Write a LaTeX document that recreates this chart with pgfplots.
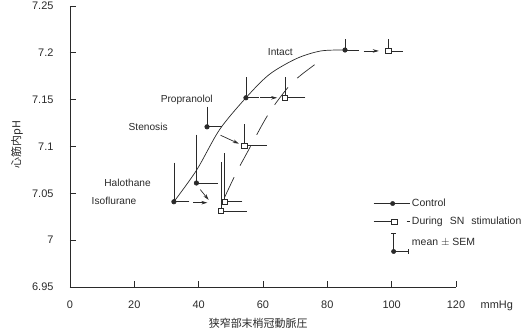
\documentclass[border=0pt]{standalone}
\usepackage{fontspec}
\setmainfont{Liberation Sans}
\newfontfamily\jp{Noto Sans CJK JP}
\usepackage{pgfplots}
\pgfplotsset{compat=1.18}
\usetikzlibrary{arrows.meta}

\definecolor{ink}{HTML}{2A2A2A}

\begin{document}
\begin{tikzpicture}
\begin{axis}[
  scale only axis, width=386bp, height=281bp,
  xmin=0, xmax=120, ymin=6.95, ymax=7.25,
  axis lines*=left,
  axis line style={ink, line width=0.9pt, -},
  tick align=inside, major tick length=6bp,
  tick style={ink, line width=0.8pt},
  xtick={0,20,...,120},
  ytick={6.95,7,7.05,7.1,7.15,7.2,7.25},
  yticklabels={6.95,7,7.05,7.1,7.15,7.2,7.25},
  /pgf/number format/assume math mode=true,
  ticklabel style={font=\fontsize{11}{13}\selectfont, text=ink},
  xticklabel style={yshift=-10bp},
  yticklabel style={xshift=-13bp},
  clip=false,
  legend style={draw=none, fill=none, at={(axis cs:93.3,7.0484)}, anchor=north west,
    font=\fontsize{10.5}{12.5}\selectfont, text=ink, row sep=5bp},
  legend cell align=left,
]

% frame of the page
\coordinate (pgbl) at (axis cs:-21.76,6.902);
\coordinate (pgtr) at (axis cs:140.83,7.2564);

% control curve (solid) and stimulation curve (dashed)
\addplot[ink, line width=0.7pt, smooth, forget plot] coordinates {
  (32.3,7.041) (39.4,7.075) (46.5,7.118) (54.7,7.152) (62,7.177)
  (70.5,7.194) (78,7.202) (85.5,7.203)};
\addplot[ink, line width=0.7pt, smooth, dash pattern=on 22bp off 13bp, forget plot] coordinates {
  (48.1,7.046) (51.7,7.072) (55,7.093) (60.2,7.126) (63.3,7.143)
  (68,7.164) (71.7,7.176) (77.9,7.192)};

% shifts from control to stimulation
\addplot[ink, line width=0.7pt, -{Stealth[length=6bp,width=3.5bp]},
  quiver={u=\thisrow{u}, v=\thisrow{v}}, forget plot] table[x=x, y=y] {
x     y      u     v
38.3  7.040  4.4   0
40.5  7.054  2.6  -0.011
46.8  7.112  5.7  -0.009
59.2  7.152  5.2   0
91.3  7.202  4.7   0
};

% control: mean +- SEM
\addplot[ink, line width=0.7pt, only marks, mark=*, mark size=2.2bp,
  mark options={fill=ink, draw=ink}, forget plot,
  error bars/.cd, x dir=plus, y dir=plus, x explicit, y explicit,
  error bar style={ink, line width=0.7pt},
  error mark options={ink, line width=0.7pt, mark size=2.5bp}]
  coordinates {
  (32.3,7.041) +- (4.0,0.039)
  (39.3,7.061) +- (5.8,0.049)
  (42.6,7.121) +- (3.8,0.019)
  (54.7,7.152) +- (3.3,0.019)
  (85.5,7.203) +- (3.6,0.009)};

% during SN stimulation: mean +- SEM
\addplot[ink, line width=0.7pt, only marks, mark=square*, mark size=2.6bp,
  mark options={fill=white, draw=ink}, forget plot,
  error bars/.cd, x dir=plus, y dir=plus, x explicit, y explicit,
  error bar style={ink, line width=0.7pt},
  error mark options={ink, line width=0.7pt, mark size=2.5bp}]
  coordinates {
  (46.9,7.031) +- (7.2,0.050)
  (48.1,7.041) +- (4.7,0.049)
  (54.2,7.101) +- (6.2,0.020)
  (66.8,7.152) +- (5.6,0.019)
  (99.0,7.202) +- (3.6,0.010)};

% condition names
\begin{scope}[font=\fontsize{10.2}{12}\selectfont, text=ink]
\node at (axis cs:65.4,7.201) {Intact};
\node at (axis cs:36.3,7.150) {Propranolol};
\node at (axis cs:24.3,7.121) {Stenosis};
\node at (axis cs:17.9,7.061) {Halothane};
\node at (axis cs:13.7,7.042) {Isoflurane};
\end{scope}

% axis titles
\node[font=\fontsize{11}{13}\selectfont, text=ink, anchor=north, yshift=-10bp, inner sep=0.333em]
  at (axis cs:132.7,6.95) {mmHg};
\node[font=\jp\fontsize{11}{13}\selectfont, text=ink, yshift=-36bp]
  at (axis cs:58.5,6.95) {狭窄部末梢冠動脈圧};
\node[font=\jp\fontsize{11}{13}\selectfont, text=ink, rotate=90]
  at ([xshift=-53bp]axis cs:0,7.102) {心筋内pH};

% legend
\addlegendimage{legend image code/.code={
  \draw[ink, line width=0.7pt] (0bp,0bp) -- (36bp,0bp);
  \fill[ink] (19bp,0bp) circle (2.2bp);}}
\addlegendentry{Control}
\addlegendimage{legend image code/.code={
  \draw[ink, line width=0.7pt] (0bp,0bp) -- (18bp,0bp);
  \draw[ink, line width=0.7pt, fill=white] (18bp,-2.6bp) rectangle (23.2bp,2.6bp);
  \draw[ink, line width=0.7pt] (33bp,0bp) -- (36bp,0bp);}}
\addlegendentry{During\hspace{7bp}SN\hspace{7bp}stimulation}
\addlegendimage{legend image code/.code={
  \draw[ink, line width=0.7pt] (20bp,-9bp) -- (20bp,9bp);
  \draw[ink, line width=0.7pt] (17.5bp,9bp) -- (22.5bp,9bp);
  \draw[ink, line width=0.7pt] (20bp,-9bp) -- (35bp,-9bp);
  \draw[ink, line width=0.7pt] (35bp,-11.5bp) -- (35bp,-6.5bp);
  \fill[ink] (20bp,-9bp) circle (2.2bp);}}
\addlegendentry{mean $\pm$ SEM}
\end{axis}
\pgfresetboundingbox
\path (pgbl) rectangle (pgtr);
\end{tikzpicture}
\end{document}
